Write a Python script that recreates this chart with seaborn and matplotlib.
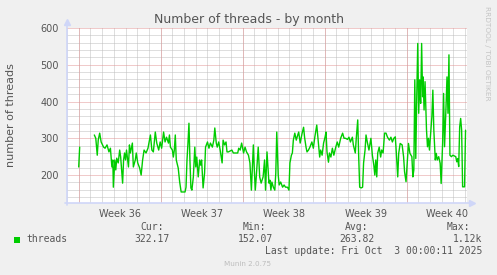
import numpy as np
import pandas as pd
import matplotlib
matplotlib.use("Agg")
import matplotlib.pyplot as plt
import matplotlib.dates as mdates
from matplotlib.patches import Rectangle
from matplotlib.lines import Line2D
import seaborn as sns

# ---------------- data ----------------
# hours since 2025-08-31 00:00 (local) and thread counts
seg1_hours = [0, 2]
seg1_values = [222, 276]

main_hours = [
    32, 35, 38, 40, 43, 46, 51, 54, 58, 62,
    65, 68, 70, 71, 74, 76, 78, 81, 84, 86,
    90, 92, 94, 96, 98, 102, 104, 106, 110, 112,
    116, 118, 121, 125, 128, 131, 134, 138, 142, 145,
    147, 150, 153, 157, 160, 164, 167, 170, 174, 177,
    180, 184, 186, 188, 192, 194, 196, 198, 200, 204,
    207, 210, 214, 218, 220, 222, 224, 226, 228, 230,
    232, 235, 238, 240, 242, 245, 248, 250, 252, 255,
    258, 260, 264, 267, 270, 274, 277, 279, 282, 284,
    287, 290, 294, 296, 299, 302, 304, 307, 314, 317,
    326, 328, 331, 334, 338, 341, 344, 348, 351, 354,
    358, 360, 362, 364, 368, 371, 374, 378, 381, 383,
    386, 390, 392, 394, 396, 399, 402, 404, 406, 409,
    411, 414, 418, 421, 424, 428, 431, 433, 436, 438,
    440, 443, 446, 449, 451, 454, 458, 461, 463, 466,
    468, 471, 474, 478, 481, 484, 488, 492, 494, 496,
    499, 502, 505, 507, 509, 512, 514, 517, 520, 523,
    527, 530, 533, 537, 541, 544, 547, 551, 554, 557,
    561, 563, 567, 569, 572, 574, 576, 579, 582, 584,
    587, 589, 592, 595, 599, 602, 605, 607, 609, 611,
    613, 616, 619, 621, 624, 627, 630, 633, 637, 640,
    643, 646, 649, 651, 654, 656, 659, 663, 666, 668,
    671, 673, 676, 679, 683, 685, 687, 689, 691, 693,
    695, 697, 699, 701, 703, 705, 706, 708, 710, 713,
    715, 717, 719, 721, 724, 726, 728, 731, 733, 735,
    738, 741, 743, 746, 748, 750, 753, 755, 757, 759,
    761, 764, 767, 770, 773, 775, 777, 779, 781, 783,
    785, 787, 789, 791, 793,
]
main_values = [
    309, 300, 254, 295, 314, 290, 276, 273, 282, 263,
    273, 222, 241, 167, 241, 214, 246, 233, 268, 249,
    178, 241, 260, 241, 268, 222, 282, 260, 287, 222,
    241, 260, 233, 219, 200, 241, 268, 260, 273, 295,
    309, 268, 263, 317, 287, 268, 290, 273, 317, 290,
    303, 287, 309, 276, 268, 249, 268, 309, 241, 219,
    181, 154, 154, 154, 167, 241, 287, 341, 241, 165,
    159, 195, 276, 222, 249, 195, 241, 227, 241, 165,
    205, 276, 290, 273, 287, 276, 295, 328, 287, 276,
    290, 268, 233, 295, 282, 290, 263, 263, 268, 260,
    260, 273, 268, 287, 260, 276, 263, 254, 233, 159,
    282, 214, 159, 195, 276, 195, 178, 195, 241, 159,
    263, 178, 186, 159, 181, 167, 159, 205, 317, 200,
    173, 181, 167, 173, 167, 167, 159, 233, 254, 260,
    295, 314, 295, 309, 317, 287, 314, 330, 303, 276,
    263, 268, 276, 290, 273, 303, 336, 276, 249, 268,
    254, 287, 303, 317, 263, 235, 260, 249, 273, 254,
    276, 290, 276, 300, 314, 300, 300, 297, 303, 290,
    303, 282, 260, 300, 350, 249, 167, 165, 167, 233,
    268, 309, 287, 268, 300, 254, 227, 200, 241, 195,
    260, 276, 249, 268, 260, 314, 314, 303, 295, 303,
    290, 300, 304, 263, 195, 259, 286, 282, 250, 209,
    182, 223, 286, 259, 250, 195, 214, 459, 245, 413,
    558, 368, 459, 395, 558, 413, 467, 377, 454, 322,
    277, 300, 268, 304, 359, 431, 322, 241, 259, 241,
    250, 232, 177, 286, 422, 277, 386, 467, 368, 527,
    254, 250, 254, 252, 250, 236, 245, 223, 331, 354,
    322, 168, 168, 168, 322,
]

week_labels = ["Week 36", "Week 37", "Week 38", "Week 39", "Week 40"]
stat_names = ["Cur:", "Min:", "Avg:", "Max:"]
stat_values = ["322.17", "152.07", "263.82", "1.12k"]
series_name = "threads"
title = "Number of threads - by month"
ylabel = "number of threads"
last_update = "Last update: Fri Oct  3 00:00:11 2025"
base_date = pd.Timestamp("2025-08-31")

# ---------------- build frame ----------------
assert len(main_hours) == len(main_values)
df = pd.DataFrame({
    "hours": seg1_hours + main_hours,
    "threads": seg1_values + main_values,
    "segment": [0] * len(seg1_hours) + [1] * len(main_hours),
})
df["time"] = base_date + pd.to_timedelta(df["hours"], unit="h")

# ---------------- style ----------------
sns.set_style("white")
plt.rcParams["font.family"] = ["DejaVu Sans"]

W, H = 497, 275
BG = "#F0F0F0"
FONT = "#555555"
GREEN = "#00CC00"
AXIS = "#CFD6F8"
MINOR = "#BEBEBE"
MAJOR = "#E29696"
DOT = (0, (1, 1))

def fx(x):
    return x / W

def fy(y):
    return 1 - y / H

fig = plt.figure(figsize=(W / 100, H / 100), dpi=100, facecolor=BG)
ax = fig.add_axes([fx(67), fy(203), 400 / W, 175 / H])
ax.set_facecolor("white")

sns.lineplot(data=df, x="time", y="threads", units="segment", estimator=None,
             color=GREEN, linewidth=1.0, ax=ax, legend=False, zorder=5)

# limits
x0 = mdates.date2num(base_date - pd.Timedelta(hours=4))
x1 = mdates.date2num(base_date + pd.Timedelta(hours=796))
ax.set_xlim(x0, x1)
ax.set_ylim(124, 600)

grid_kw = dict(linestyle=DOT, linewidth=0.72)

# y ticks / grid
ax.set_yticks(np.arange(200, 601, 100))
ax.set_yticks(np.arange(140, 601, 20), minor=True)
ax.tick_params(axis="y", which="major", length=2, color=MAJOR, labelsize=7,
               labelcolor=FONT, pad=4)
ax.tick_params(axis="y", which="minor", length=2, color=MINOR)
ax.grid(False)
ax.yaxis.grid(True, which="minor", color=MINOR, zorder=0, **grid_kw)
ax.yaxis.grid(True, which="major", color=MAJOR, zorder=1, **grid_kw)

# x ticks: daily minor grid, week labels at week centers, red lines at week starts
days = [mdates.date2num(base_date + pd.Timedelta(days=d)) for d in range(-1, 34)]
ax.set_xticks(days, minor=True)
centers = [mdates.date2num(base_date + pd.Timedelta(days=7 * i + 3.5)) for i in range(len(week_labels))]
ax.set_xticks(centers, week_labels)
ax.tick_params(axis="x", which="major", length=0, labelsize=7, labelcolor=FONT, pad=4.5)
ax.tick_params(axis="x", which="minor", length=2, color=MINOR)
ax.xaxis.grid(True, which="minor", color=MINOR, zorder=0, **grid_kw)
ax.xaxis.grid(False, which="major")
for i in range(len(week_labels)):
    ws = mdates.date2num(base_date + pd.Timedelta(days=7 * i))
    ax.axvline(ws, color=MAJOR, zorder=1, **grid_kw)
ax.set_axisbelow(True)
ax.set_xlabel("")
ax.set_ylabel("")

for s in ax.spines.values():
    s.set_visible(False)

# axes with arrows
ax.add_line(Line2D([0, 0], [-0.01, 1.03], transform=ax.transAxes, color=AXIS,
                   linewidth=1.2, clip_on=False, zorder=6))
ax.add_line(Line2D([-0.005, 1.01], [0, 0], transform=ax.transAxes, color=AXIS,
                   linewidth=1.2, clip_on=False, zorder=6))
ax.plot([0], [1.035], marker="^", markersize=4, color=AXIS, transform=ax.transAxes,
        clip_on=False, zorder=6)
ax.plot([1.012], [0], marker=">", markersize=4, color=AXIS, transform=ax.transAxes,
        clip_on=False, zorder=6)

# titles
fig.text(0.5, fy(19), title, ha="center", va="center", fontsize=9, color=FONT)
fig.text(fx(11), fy(115.5), ylabel, rotation=90, ha="center", va="center",
         fontsize=8, color=FONT)
fig.text(fx(487), fy(53), "RRDTOOL / TOBI OETIKER", rotation=270, ha="center",
         va="center", fontsize=5.3, color="#C4C4C4")

# legend
mono = "DejaVu Sans Mono"
fig.add_artist(Rectangle((fx(14), fy(242.5)), 6 / W, 6 / H, transform=fig.transFigure,
                         facecolor=GREEN, edgecolor="none"))
fig.text(fx(26.5), fy(239.5), series_name, ha="left", va="center", fontsize=7,
         color=FONT, family=mono)
name_right = [163.5, 266, 368.5, 470.5]
value_right = [170, 273, 374.5, 482]
for nm, vr, xr_n, xr_v in zip(stat_names, stat_values, name_right, value_right):
    fig.text(fx(xr_n), fy(227), nm, ha="right", va="center", fontsize=7,
             color=FONT, family=mono)
    fig.text(fx(xr_v), fy(239.5), vr, ha="right", va="center", fontsize=7,
             color=FONT, family=mono)
fig.text(fx(482), fy(251), last_update, ha="right", va="center", fontsize=7,
         color=FONT, family=mono)
fig.text(fx(248), fy(264), "Munin 2.0.75", ha="center", va="center", fontsize=5.2,
         color="#BDBDBD")

fig.savefig("out.png", dpi=100, facecolor=BG)
